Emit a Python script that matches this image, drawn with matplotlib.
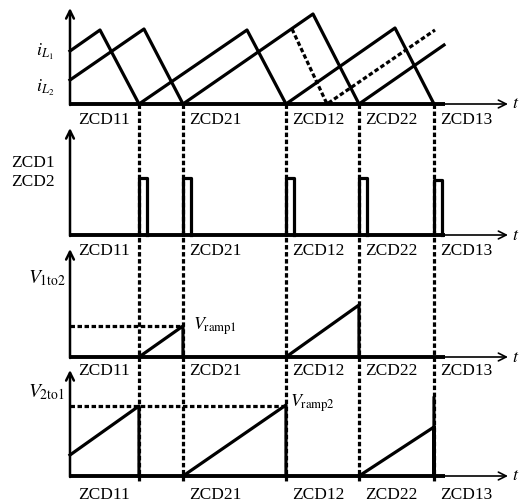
import matplotlib
matplotlib.use('Agg')
import matplotlib.pyplot as plt

plt.rcParams['font.family'] = ['Liberation Serif', 'DejaVu Serif']
plt.rcParams['mathtext.fontset'] = 'stix'

# zero-current-detection instants (time units, origin at the vertical axis)
zcd_t = [6.9, 11.3, 21.6, 28.9, 36.4]
zcd_names = ['ZCD11', 'ZCD21', 'ZCD12', 'ZCD22', 'ZCD13']

# inductor currents iL1, iL2 (panel 1)
il1_t = [0, 3.0, 6.9, 17.7, 21.6, 32.5, 36.4]
il1_y = [5.3, 7.4, 0, 7.4, 0, 7.6, 0]
il2_t = [0, 7.4, 11.3, 24.3, 28.9, 37.4]
il2_y = [2.4, 7.5, 0, 9.0, 0, 5.9]
il_dash_t = [22.2, 25.7, 36.5]
il_dash_y = [7.5, 0, 7.4]

# ZCD1 / ZCD2 pulses (panel 2)
pulse_w = 0.75
pulse_h = [5.7, 5.7, 5.7, 5.7, 5.5]

# V1to2 ramps (panel 3)
v12_t = [[6.9, 11.3, 11.3], [21.6, 28.9, 28.9]]
v12_y = [[0, 3.1, 0], [0, 5.2, 0]]
vramp1 = 3.1

# V2to1 ramps (panel 4)
v21_t = [[0, 6.9, 6.9], [11.3, 21.6, 21.6], [28.9, 36.4, 36.4, 36.4]]
v21_y = [[2.1, 7.0, 0], [0, 7.1, 0], [0, 4.9, 0, 7.8]]
vramp2 = 7.0

# layout (pixels)
W, H = 519, 503
X0 = 70          # pixel column of the time origin
SCALE = 10.0     # pixels per unit
base_px = [104, 235, 357, 476]
top_u = [9.6, 10.7, 10.8, 10.6]
label_dy = [-1.6, -1.6, -1.4, -1.9]
t_thick = 37.5
t_arrow = 43.8

DASH = (0, (1.4, 0.8))
LW = 2.3

fig = plt.figure(figsize=(W / 100, H / 100), dpi=100)
xlim = (-X0 / SCALE, (W - X0) / SCALE)

# overlay for the vertical dashed guide lines (pixel rows)
ov = fig.add_axes([0, 0, 1, 1])
ov.set_xlim(*xlim)
ov.set_ylim(H, 0)
ov.axis('off')
ov.vlines(zcd_t, base_px[0], 482, colors='black', linewidth=2.3, linestyles=[DASH])


def make_panel(i):
    ax = fig.add_axes([0, 0, 1, 1])
    ax.set_xlim(*xlim)
    ax.set_ylim((base_px[i] - H) / SCALE, base_px[i] / SCALE)
    ax.axis('off')
    # axes arrows
    ax.annotate('', xy=(0, top_u[i]), xytext=(0, -0.1),
                arrowprops=dict(arrowstyle='->', lw=1.8, color='black',
                                mutation_scale=14, shrinkA=0, shrinkB=0))
    ax.annotate('', xy=(t_arrow, 0), xytext=(0, 0),
                arrowprops=dict(arrowstyle='->', lw=1.2, color='black',
                                mutation_scale=14, shrinkA=0, shrinkB=0))
    ax.plot([0, t_thick], [0, 0], color='black', lw=2.8, solid_capstyle='butt')
    ax.text(t_arrow + 0.4, 0, '$t$', ha='left', va='center', fontsize=13)
    for name, t in zip(zcd_names, zcd_t):
        if name == 'ZCD11':
            ax.text(t - 0.9, label_dy[i], name, ha='right', va='center', fontsize=12.5)
        else:
            ax.text(t + 0.6, label_dy[i], name, ha='left', va='center', fontsize=12.5)
    return ax


# panel 1: inductor currents
ax1 = make_panel(0)
ax1.plot(il1_t, il1_y, color='black', lw=LW)
ax1.plot(il2_t, il2_y, color='black', lw=LW)
ax1.plot(il_dash_t, il_dash_y, color='black', lw=LW, linestyle=DASH)
ax1.text(-1.6, 5.2, r'$i_{L_1}$', ha='right', va='center', fontsize=13)
ax1.text(-1.6, 1.6, r'$i_{L_2}$', ha='right', va='center', fontsize=13)

# panel 2: ZCD pulses
ax2 = make_panel(1)
for t, h in zip(zcd_t, pulse_h):
    ax2.plot([t, t, t + pulse_w, t + pulse_w], [0, h, h, 0], color='black', lw=LW)
ax2.text(-1.5, 7.2, 'ZCD1', ha='right', va='center', fontsize=12.5)
ax2.text(-1.5, 5.3, 'ZCD2', ha='right', va='center', fontsize=12.5)

# panel 3: V1to2
ax3 = make_panel(2)
for ts, ys in zip(v12_t, v12_y):
    ax3.plot(ts, ys, color='black', lw=LW)
ax3.plot([0, v12_t[0][1]], [vramp1, vramp1], color='black', lw=2.3, linestyle=DASH)
ax3.text(-4.2, 7.9, r'$V_{\mathrm{1to2}}$', ha='left', va='center', fontsize=14)
ax3.text(12.3, vramp1, r'$V_{\mathrm{ramp1}}$', ha='left', va='center', fontsize=13)

# panel 4: V2to1
ax4 = make_panel(3)
for ts, ys in zip(v21_t, v21_y):
    ax4.plot(ts, ys, color='black', lw=LW)
ax4.plot([0, v21_t[1][1]], [vramp2, vramp2], color='black', lw=2.3, linestyle=DASH)
ax4.text(-4.2, 8.4, r'$V_{\mathrm{2to1}}$', ha='left', va='center', fontsize=14)
ax4.text(22.0, 7.3, r'$V_{\mathrm{ramp2}}$', ha='left', va='center', fontsize=13)

fig.savefig('out.png', dpi=100)
